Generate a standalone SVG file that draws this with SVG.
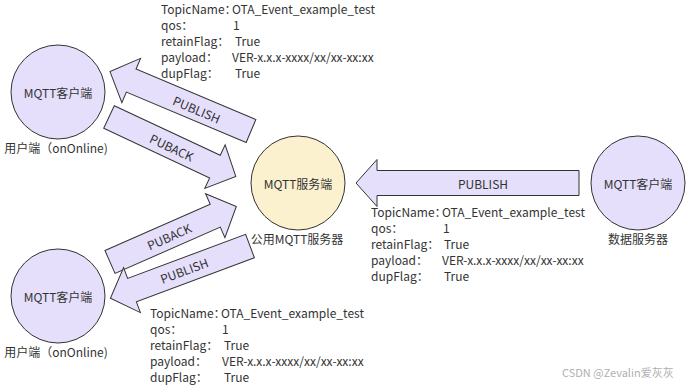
<svg xmlns="http://www.w3.org/2000/svg" width="692" height="387" viewBox="0 0 692 387">
<style>
text{font-family:"Noto Sans CJK SC","Noto Sans",sans-serif;font-size:12px;fill:#333}
.c{text-anchor:middle;dominant-baseline:central}
.client{fill:#E5DFFB;stroke:#333;stroke-width:1}
.server{fill:#FCF1CF;stroke:#333;stroke-width:1}
.arrow{fill:#E5DFFB;stroke:#333;stroke-width:1;stroke-linejoin:miter}
.wm{fill:#b0b0b0;font-size:11px}
</style>
<rect width="692" height="387" fill="#fff"/>

<g id="connectors">
  <g id="arrow-top-publish">
    <path class="arrow" transform="translate(251,131) rotate(202.85)" d="M0,-12.5 H130 V-24 L153,0 L130,24 V12.5 H0 Z"/>
    <text class="c" transform="translate(197,109) rotate(22.85)">PUBLISH</text>
  </g>
  <g id="arrow-top-puback">
    <path class="arrow" transform="translate(109,117) rotate(25.09)" d="M0,-12.5 H117 V-24 L140,0 L117,24 V12.5 H0 Z"/>
    <text class="c" transform="translate(172,147) rotate(25.09)">PUBACK</text>
  </g>
  <g id="arrow-bottom-puback">
    <path class="arrow" transform="translate(110,262) rotate(-23.75)" d="M0,-12.5 H115 V-24 L138,0 L115,24 V12.5 H0 Z"/>
    <text class="c" transform="translate(169,236) rotate(-23.75)">PUBACK</text>
  </g>
  <g id="arrow-bottom-publish">
    <path class="arrow" transform="translate(250,246) rotate(159.49)" d="M0,-12.5 H126 V-24 L149,0 L126,24 V12.5 H0 Z"/>
    <text class="c" transform="translate(184,270) rotate(-20.51)">PUBLISH</text>
  </g>
  <g id="arrow-right-publish">
    <path class="arrow" transform="translate(579,183) rotate(180)" d="M0,-12.5 H202 V-23.5 L223,0 L202,23.5 V12.5 H0 Z"/>
    <text class="c" x="483" y="183">PUBLISH</text>
  </g>
</g>

<g id="client-top">
  <circle class="client" cx="58" cy="92" r="47"/>
  <text class="c" x="58" y="92">MQTT客户端</text>
  <text class="c" x="56" y="147">用户端（onOnline)</text>
</g>

<g id="server">
  <circle class="server" cx="298" cy="183" r="47"/>
  <text class="c" x="298" y="183">MQTT服务端</text>
  <text class="c" x="297" y="238">公用MQTT服务器</text>
</g>

<g id="client-right">
  <circle class="client" cx="638" cy="183" r="47"/>
  <text class="c" x="638" y="183">MQTT客户端</text>
  <text class="c" x="638" y="238">数据服务器</text>
</g>

<g id="client-bottom">
  <circle class="client" cx="58" cy="296" r="47"/>
  <text class="c" x="58" y="296">MQTT客户端</text>
  <text class="c" x="56" y="351">用户端（onOnline)</text>
</g>

<g id="info-top">
  <text x="161" y="14">TopicName：</text><text x="232" y="14">OTA_Event_example_test</text>
  <text x="161" y="30">qos：</text><text x="233" y="30">1</text>
  <text x="161" y="46">retainFlag：</text><text x="235" y="46">True</text>
  <text x="161" y="62">payload：</text><text x="232" y="62">VER-x.x.x-xxxx/xx/xx-xx:xx</text>
  <text x="161" y="78">dupFlag：</text><text x="235" y="78">True</text>
</g>

<g id="info-right">
  <text x="371" y="217">TopicName：</text><text x="442" y="217">OTA_Event_example_test</text>
  <text x="371" y="233">qos：</text><text x="443" y="233">1</text>
  <text x="371" y="249">retainFlag：</text><text x="444" y="249">True</text>
  <text x="371" y="265">payload：</text><text x="442" y="265">VER-x.x.x-xxxx/xx/xx-xx:xx</text>
  <text x="371" y="281">dupFlag：</text><text x="444" y="281">True</text>
</g>

<g id="info-bottom">
  <text x="150" y="318">TopicName：</text><text x="221" y="318">OTA_Event_example_test</text>
  <text x="150" y="334">qos：</text><text x="222" y="334">1</text>
  <text x="150" y="350">retainFlag：</text><text x="224" y="350">True</text>
  <text x="150" y="366">payload：</text><text x="222" y="366">VER-x.x.x-xxxx/xx/xx-xx:xx</text>
  <text x="150" y="382">dupFlag：</text><text x="224" y="382">True</text>
</g>

<text class="wm" x="562" y="377">CSDN @Zevalin爱灰灰</text>
</svg>
